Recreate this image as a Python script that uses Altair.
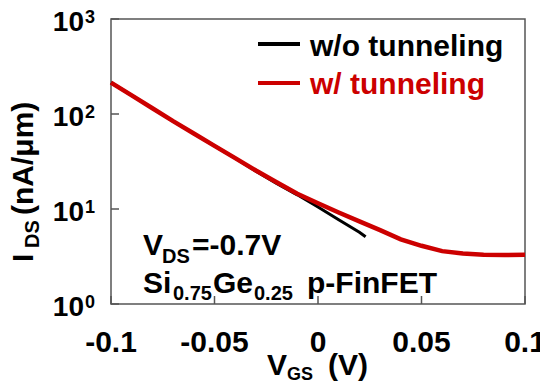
import altair as alt
import pandas as pd

# ---- data ----
vgs = [-0.1, -0.09, -0.08, -0.07, -0.06, -0.05, -0.04, -0.03, -0.02, -0.01, 0.0,
       0.01, 0.02, 0.03, 0.04, 0.05, 0.06, 0.07, 0.08, 0.09, 0.1]
ids_tunnel = [214, 157, 115, 84, 62.4, 46.2, 34.3, 25.4, 19.1, 14.5, 11.5,
              9.2, 7.4, 6.0, 4.8, 4.1, 3.6, 3.4, 3.3, 3.27, 3.3]
vgs_notunnel = [-0.1, -0.09, -0.08, -0.07, -0.06, -0.05, -0.04, -0.03, -0.02, -0.01, 0.0,
                0.01, 0.02, 0.023]
ids_notunnel = [214, 157, 115, 84, 62.4, 46.2, 34.2, 25.0, 18.6, 14.1, 10.5,
                7.7, 5.7, 5.1]
x_ticks = [-0.1, -0.05, 0.0, 0.05, 0.1]
x_tick_labels = ["-0.1", "-0.05", "0", "0.05", "0.1"]
y_ticks = [1, 10, 100, 1000]
y_tick_exps = ["0", "1", "2", "3"]
series_names = ["w/o tunneling", "w/ tunneling"]

FONT = "Liberation Sans"
RED = "#CC0000"
W, H = 414, 285

xscale = alt.Scale(domain=[-0.1, 0.1], nice=False, zero=False)
yscale = alt.Scale(type="log", domain=[1, 1000], nice=False)

df_t = pd.DataFrame({"vgs": vgs, "ids": ids_tunnel})
df_n = pd.DataFrame({"vgs": vgs_notunnel, "ids": ids_notunnel})
df_xt = pd.DataFrame({"v": x_ticks, "lab": x_tick_labels})
df_yt = pd.DataFrame({"v": y_ticks, "exp": y_tick_exps})
one = pd.DataFrame({"a": [0]})

X = alt.X("vgs:Q", scale=xscale, axis=None)
Y = alt.Y("ids:Q", scale=yscale, axis=None)

line_n = alt.Chart(df_n).mark_line(color="black", strokeWidth=3).encode(x=X, y=Y)
line_t = alt.Chart(df_t).mark_line(color=RED, strokeWidth=4.5).encode(x=X, y=Y)

# inward tick marks
yticks = alt.Chart(df_yt).mark_rule(color="#555555", strokeWidth=1.5).encode(
    y=alt.Y("v:Q", scale=yscale, axis=None), x=alt.value(0), x2=alt.value(8))
xticks = alt.Chart(df_xt).mark_rule(color="#555555", strokeWidth=1.5).encode(
    x=alt.X("v:Q", scale=xscale, axis=None), y=alt.value(H), y2=alt.value(H - 8))

# tick labels
xlabels = alt.Chart(df_xt).mark_text(font=FONT, fontWeight="bold", fontSize=30,
                                     align="center", baseline="alphabetic", color="black").encode(
    x=alt.X("v:Q", scale=xscale, axis=None), y=alt.value(333), text="lab:N")
ylab10 = alt.Chart(df_yt).mark_text(font=FONT, fontWeight="bold", fontSize=28,
                                    align="right", baseline="alphabetic", dy=12, color="black").encode(
    y=alt.Y("v:Q", scale=yscale, axis=None), x=alt.value(-27), text=alt.value("10"))
ylabexp = alt.Chart(df_yt).mark_text(font=FONT, fontWeight="bold", fontSize=18,
                                     align="left", baseline="alphabetic", dy=4, color="black").encode(
    y=alt.Y("v:Q", scale=yscale, axis=None), x=alt.value(-26), text="exp:N")


def txt(s, x, y, size=30, color="black", angle=0):
    return alt.Chart(one).mark_text(font=FONT, fontWeight="bold", fontSize=size, align="left",
                                    baseline="alphabetic", color=color, angle=angle).encode(
        x=alt.value(x), y=alt.value(y), text=alt.value(s))


def seg(x1, x2, y, color):
    return alt.Chart(one).mark_rule(color=color, strokeWidth=4).encode(
        x=alt.value(x1), x2=alt.value(x2), y=alt.value(y))


layers = [
    line_n, line_t, yticks, xticks, xlabels, ylab10, ylabexp,
    # legend
    seg(147, 189, 25, "black"), txt(series_names[0], 199, 37),
    seg(147, 189, 64, RED), txt(series_names[1], 199, 75, color=RED),
    # annotation
    txt("V", 32, 236), txt("DS", 51, 244, size=20), txt("=-0.7V", 81, 236),
    txt("Si", 32, 274), txt("0.75", 62, 281, size=20), txt("Ge", 102, 274),
    txt("0.25", 143, 281, size=20), txt("p-FinFET", 196, 274),
    # x title
    txt("V", 156, 356), txt("GS", 176, 361, size=18), txt("(V)", 217, 356),
    # y title (rotated)
    txt("I", -78, 243, angle=270), txt("DS", -72, 229, size=20, angle=270),
    txt("(nA/\u03bcm)", -78, 196, size=30, angle=270),
]

chart = alt.layer(*layers).properties(
    width=W, height=H,
    padding={"left": 103, "top": 11, "right": 15, "bottom": 80},
    autosize=alt.AutoSizeParams(type="none"),
).configure_view(stroke="#555555", strokeWidth=1.5)

chart.save("out.html", embed_options={"renderer": "svg", "actions": False})
